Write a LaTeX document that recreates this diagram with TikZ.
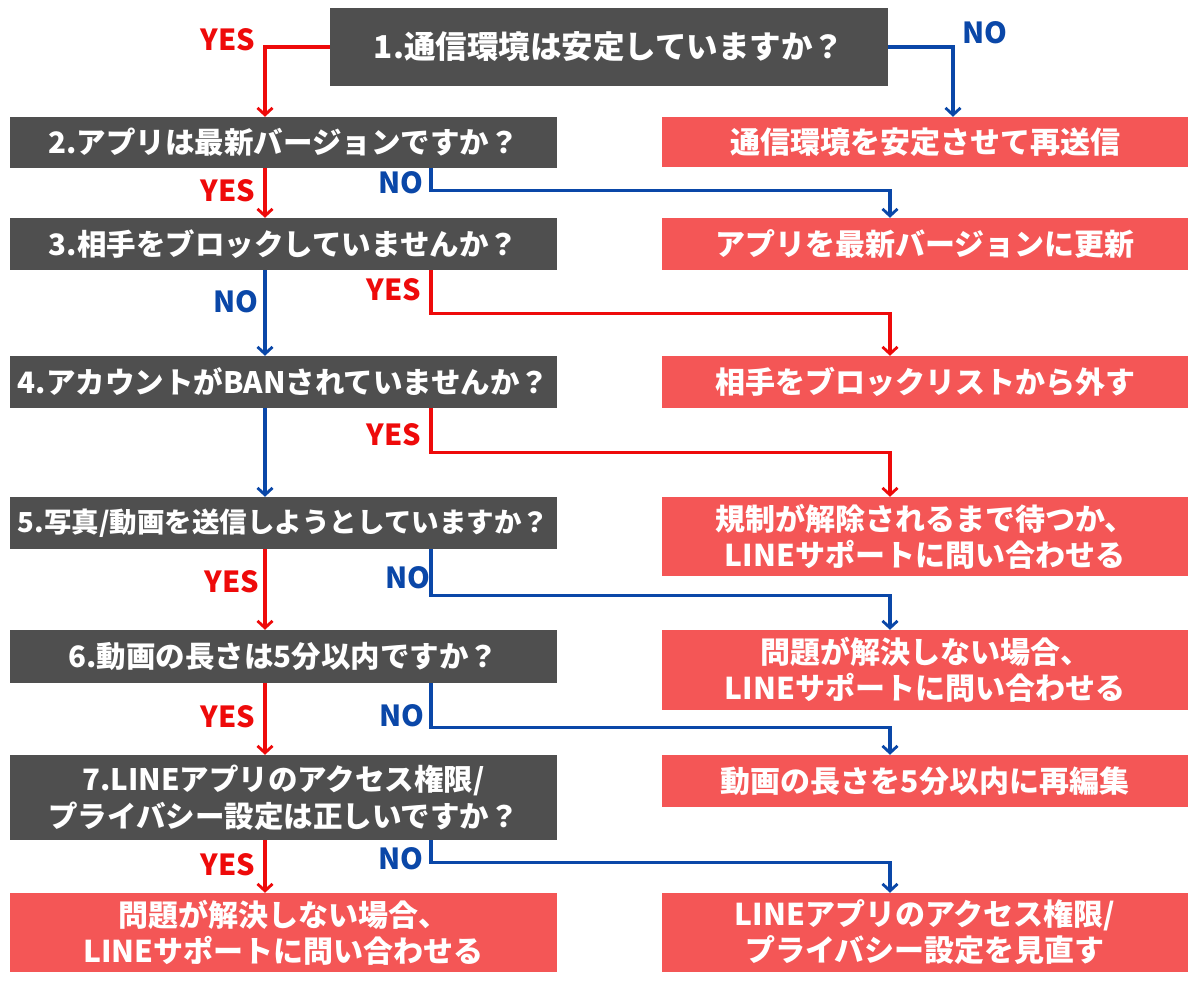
\documentclass[tikz,border=0pt]{standalone}
\usepackage{fontspec}
\newfontfamily\jp{Noto Sans CJK JP}
\usetikzlibrary{arrows.meta}
\definecolor{qgray}{HTML}{4F4F4F}
\definecolor{abox}{HTML}{F45656}
\definecolor{yred}{HTML}{EE0A0A}
\definecolor{nblue}{HTML}{0A47A8}
\tikzset{
  qbox/.style={fill=qgray, text=white, inner sep=0pt, align=center, font=\jp\bfseries\fontsize{29.5}{37}\selectfont},
  abx/.style={fill=abox, text=white, inner sep=0pt, align=center, font=\jp\bfseries\fontsize{30}{36}\selectfont},
  lw/.style={minimum width=547pt},
  rw/.style={minimum width=526pt},
  yesline/.style={draw=yred, line width=3.2pt, -{Straight Barb[length=7pt,width=15pt,line width=2.8pt]}},
  noline/.style={draw=nblue, line width=3.2pt, -{Straight Barb[length=7pt,width=15pt,line width=2.8pt]}},
  ylab/.style={text=yred, inner sep=0pt, font=\jp\bfseries\fontsize{29}{30}\selectfont},
  nlab/.style={text=nblue, inner sep=0pt, font=\jp\bfseries\fontsize{29}{30}\selectfont},
}
\begin{document}
\begin{tikzpicture}[x=1pt,y=-1pt]
\useasboundingbox[fill=white] (0,0) rectangle (1200,1005);
% questions
\node[qbox, minimum width=558pt, minimum height=78pt, font=\jp\bfseries\fontsize{31.5}{37}\selectfont] (b1) at (609,47) {1.通信環境は安定していますか？};
\node[qbox, lw, minimum height=51pt] (b2) at (283.5,142.5) {2.アプリは最新バージョンですか？};
\node[qbox, lw, minimum height=52pt] (b3) at (283.5,244) {3.相手をブロックしていませんか？};
\node[qbox, lw, minimum height=52pt] (b4) at (283.5,382) {4.アカウントがBANされていませんか？};
\node[qbox, lw, minimum height=52pt, font=\jp\bfseries\fontsize{27.5}{37}\selectfont] (b5) at (283.5,523) {5.写真/動画を送信しようとしていますか？};
\node[qbox, lw, minimum height=53pt] (b6) at (283.5,656.5) {6.動画の長さは5分以内ですか？};
\node[qbox, lw, minimum height=85pt] (b7) at (283.5,797.5) {7.LINEアプリのアクセス権限/\\プライバシー設定は正しいですか？};
\node[abx, lw, minimum height=79pt] (l8) at (283.5,932.5) {問題が解決しない場合、\\LINEサポートに問い合わせる};
% answers
\node[abx, rw, minimum height=50pt] (r1) at (925,142) {通信環境を安定させて再送信};
\node[abx, rw, minimum height=52pt] (r2) at (925,244) {アプリを最新バージョンに更新};
\node[abx, rw, minimum height=52pt] (r3) at (925,382) {相手をブロックリストから外す};
\node[abx, rw, minimum height=79pt] (r4) at (925,536.5) {規制が解除されるまで待つか、\\LINEサポートに問い合わせる};
\node[abx, rw, minimum height=80pt] (r5) at (925,670) {問題が解決しない場合、\\LINEサポートに問い合わせる};
\node[abx, rw, minimum height=52pt] (r6) at (925,781) {動画の長さを5分以内に再編集};
\node[abx, rw, minimum height=79pt] (r7) at (925,932.5) {LINEアプリのアクセス権限/\\プライバシー設定を見直す};
% guide coordinates
\coordinate (cL) at (265,0);
\coordinate (cM) at (431,0);
\coordinate (cR) at (890,0);
\coordinate (cN) at (953,0);
% connectors
\draw[yesline] (b1.west) -| (b2.north -| cL);
\draw[noline] (b1.east) -| (r1.north -| cN);
\draw[yesline] (b2.south -| cL) -- (b3.north -| cL);
\draw[noline] (b2.south -| cM) -- ++(0,22) -| (r2.north -| cR);
\draw[noline] (b3.south -| cL) -- (b4.north -| cL);
\draw[yesline] (b3.south -| cM) -- ++(0,43) -| (r3.north -| cR);
\draw[noline] (b4.south -| cL) -- (b5.north -| cL);
\draw[yesline] (b4.south -| cM) -- ++(0,44) -| (r4.north -| cR);
\draw[yesline] (b5.south -| cL) -- (b6.north -| cL);
\draw[noline] (b5.south -| cM) -- ++(0,46) -| (r5.north -| cR);
\draw[yesline] (b6.south -| cL) -- (b7.north -| cL);
\draw[noline] (b6.south -| cM) -- ++(0,44) -| (r6.north -| cR);
\draw[yesline] (b7.south -| cL) -- (l8.north -| cL);
\draw[noline] (b7.south -| cM) -- ++(0,22) -| (r7.north -| cR);
% labels
\node[ylab] (y1) at (228,40) {YES};
\node[nlab] (n1) at (985,33) {NO};
\node[ylab] (y2) at (228,191) {YES};
\node[nlab] (n2) at (401,183) {NO};
\node[nlab] (n3) at (236,302) {NO};
\node[ylab] (y3) at (394,290) {YES};
\node[ylab] (y4) at (394,435) {YES};
\node[ylab] (y5) at (232,582) {YES};
\node[nlab] (n5) at (408,578) {NO};
\node[ylab] (y6) at (228,717) {YES};
\node[nlab] (n6) at (402,716) {NO};
\node[ylab] (y7) at (228,865) {YES};
\node[nlab] (n7) at (401,859) {NO};
\end{tikzpicture}
\end{document}
